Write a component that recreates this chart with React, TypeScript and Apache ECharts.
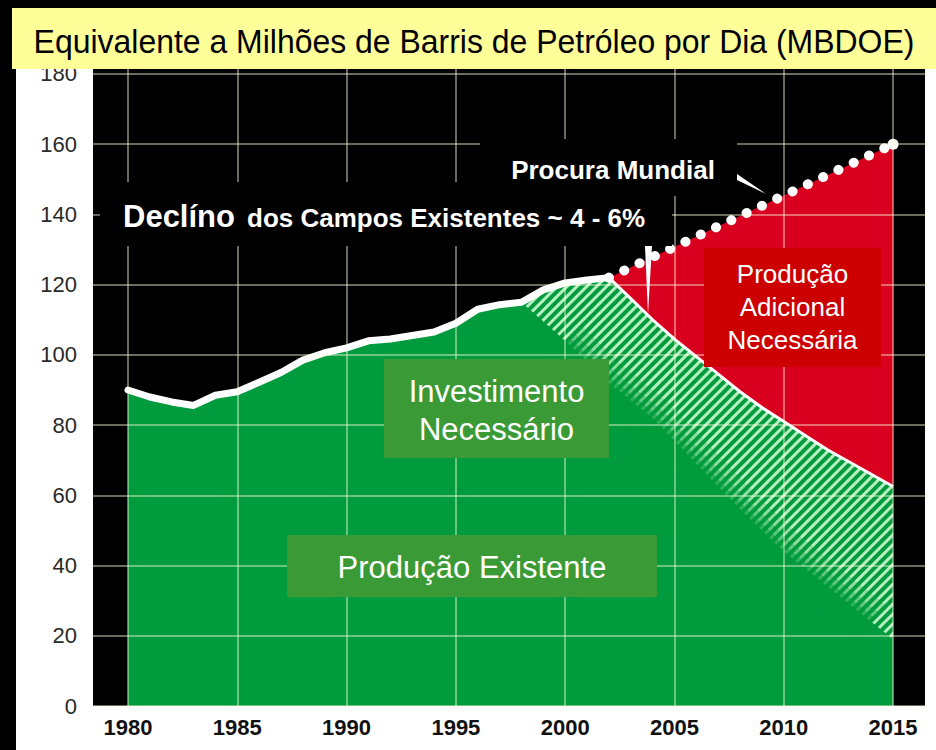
import React, { useEffect, useRef } from "react";
import * as echarts from "echarts";

// ---------- data ----------
const xTicks = [1980, 1985, 1990, 1995, 2000, 2005, 2010, 2015];
const yTicks = [0, 20, 40, 60, 80, 100, 120, 140, 160, 180];

const productionYears = [1980, 1981, 1982, 1983, 1984, 1985, 1986, 1987, 1988, 1989, 1990, 1991, 1992, 1993, 1994, 1995, 1996, 1997, 1998, 1999, 2000, 2001, 2002];
const productionValues = [90, 88, 86.6, 85.6, 88.5, 89.5, 92.2, 95, 98.5, 100.6, 102, 104, 104.5, 105.5, 106.5, 109, 113, 114.3, 115, 118.5, 120.5, 121.3, 122];

const declineYears = [2002, 2003, 2004, 2005, 2006, 2007, 2008, 2009, 2010, 2011, 2012, 2013, 2014, 2015];
const declineValues = [122, 116, 110, 104.5, 99.5, 94.5, 89.5, 85, 81, 77, 73, 69.5, 66, 62.5];

const baselineYears = [1998, 2000, 2002, 2004, 2006, 2008, 2010, 2012, 2014, 2015];
const baselineValues = [115, 104, 92, 82, 69, 56, 44, 34, 24, 19];

const demandYears = [2002, 2015];
const demandValues = [122, 160];

const TITLE = "Equivalente a Milhões de Barris de Petróleo por Dia (MBDOE)";

const FONT = "'Liberation Sans', Arial, Helvetica, sans-serif";
const GREEN = "#009B3C";
const RED = "#D8001E";

export default function App() {
  const ref = useRef<HTMLDivElement>(null);

  useEffect(() => {
    if (!ref.current) return;
    const chart = echarts.init(ref.current, null, { renderer: "svg" });

    const prod = productionYears.map((y, i) => [y, productionValues[i]]);
    const decl = declineYears.map((y, i) => [y, declineValues[i]]);
    const base = baselineYears.map((y, i) => [y, baselineValues[i]]);
    const demand = demandYears.map((y, i) => [y, demandValues[i]]);

    const fullProd = prod.concat(decl.slice(1));
    const baseFull = prod.filter((p) => p[0] <= baselineYears[0]).concat(base.slice(1));
    const fadeData = base.slice(1, -1);

    const xMin = 1978.4;
    const xMax = 2016.46;
    const yMax = 181.42;

    const gridColor = "rgba(255,255,225,0.42)";

    const fadeSeries = [
      { w: 44, a: 0.22 },
      { w: 24, a: 0.33 },
      { w: 10, a: 0.5 },
    ].map((f, i) => ({
      type: "line",
      data: fadeData,
      symbol: "none",
      lineStyle: { color: `rgba(0,155,60,${f.a})`, width: f.w, cap: "butt", join: "round" },
      z: 4 + i * 0.01,
      silent: true,
    }));

    const option: any = {
      animation: false,
      backgroundColor: "#ffffff",
      grid: {
        left: 93,
        right: 11,
        top: 69,
        bottom: 44,
        show: true,
        backgroundColor: "#000000",
        borderWidth: 0,
      },
      xAxis: [
        {
          type: "value",
          min: xMin,
          max: xMax,
          axisLine: { show: false },
          axisTick: { show: false, customValues: xTicks },
          axisLabel: {
            customValues: xTicks,
            fontSize: 22,
            fontWeight: "bold",
            color: "#111",
            fontFamily: FONT,
            margin: 10,
            formatter: (v: number) => String(v),
          },
          splitLine: { show: false },
        },
        {
          type: "value",
          min: xMin,
          max: xMax,
          position: "bottom",
          axisLine: { show: false },
          axisTick: { show: false, customValues: xTicks },
          axisLabel: { show: false, customValues: xTicks },
          splitLine: { show: true, lineStyle: { color: gridColor, width: 2 } },
          z: 8,
        },
      ],
      yAxis: [
        {
          type: "value",
          min: 0,
          max: yMax,
          axisLine: { show: false },
          axisTick: { show: false, customValues: yTicks },
          axisLabel: {
            customValues: yTicks,
            fontSize: 22,
            color: "#2a2a2a",
            fontFamily: FONT,
            margin: 16,
          },
          splitLine: { show: false },
        },
        {
          type: "value",
          min: 0,
          max: yMax,
          position: "left",
          axisLine: { show: false },
          axisTick: { show: false, customValues: yTicks },
          axisLabel: { show: false, customValues: yTicks },
          splitLine: { show: true, lineStyle: { color: gridColor, width: 2 } },
          z: 8,
        },
      ],
      series: [
        {
          type: "line",
          data: demand,
          symbol: "none",
          lineStyle: { width: 0 },
          areaStyle: { color: RED, opacity: 1 },
          z: 1,
          silent: true,
        },
        {
          type: "line",
          data: fullProd,
          symbol: "none",
          lineStyle: { width: 0 },
          areaStyle: { color: GREEN, opacity: 1 },
          itemStyle: {
            color: GREEN,
            decal: {
              symbol: "rect",
              symbolSize: 1,
              dashArrayX: [1, 0],
              dashArrayY: [2.2, 3.6],
              rotation: -Math.PI / 4,
              color: "rgba(215,255,215,0.85)",
            },
          },
          z: 2,
          silent: true,
        },
        {
          type: "line",
          data: baseFull,
          symbol: "none",
          lineStyle: { width: 0 },
          areaStyle: { color: GREEN, opacity: 1 },
          z: 3,
          silent: true,
        },
        ...fadeSeries,
        {
          type: "line",
          data: decl,
          symbol: "none",
          lineStyle: { color: "#ffffff", width: 3 },
          z: 6,
          silent: true,
        },
        {
          type: "line",
          data: prod,
          symbol: "none",
          lineStyle: { color: "#ffffff", width: 7, cap: "round", join: "round" },
          z: 6,
          silent: true,
        },
        {
          type: "line",
          data: demand.map((p, i) => ({
            value: p,
            symbol: "circle",
            symbolSize: i === demand.length - 1 ? 11 : 0,
          })),
          lineStyle: { color: "#ffffff", width: 10, type: [0.1, 16.8], cap: "round" },
          itemStyle: { color: "#ffffff", borderWidth: 0 },
          z: 7,
          silent: true,
        },
      ],
      graphic: [
        { type: "rect", z: 100, shape: { x: 0, y: 0, width: 16, height: 750 }, style: { fill: "#000" } },
        { type: "rect", z: 100, shape: { x: 0, y: 0, width: 936, height: 8 }, style: { fill: "#000" } },
        { type: "rect", z: 101, shape: { x: 12, y: 8, width: 924, height: 61 }, style: { fill: "#FFFF99" } },
        {
          type: "text",
          z: 102,
          x: 474,
          y: 41,
          scaleX: 0.94,
          style: {
            text: TITLE,
            fontSize: 34,
            fontFamily: FONT,
            fill: "#000",
            align: "center",
            verticalAlign: "middle",
          },
        },
        // Procura Mundial
        { type: "rect", z: 100, shape: { x: 480, y: 139, width: 257, height: 57 }, style: { fill: "#000" } },
        {
          type: "text",
          z: 102,
          x: 613,
          y: 170,
          style: {
            text: "Procura Mundial",
            fontSize: 26,
            fontWeight: "bold",
            fontFamily: FONT,
            fill: "#fff",
            align: "center",
            verticalAlign: "middle",
          },
        },
        { type: "polygon", z: 102, shape: { points: [[737, 174], [737, 180], [766, 194]] }, style: { fill: "#fff" } },
        // Declino
        { type: "rect", z: 100, shape: { x: 100, y: 182, width: 572, height: 64 }, style: { fill: "#000" } },
        {
          type: "text",
          z: 102,
          x: 123,
          y: 216,
          style: {
            text: "Declíno",
            fontSize: 31,
            fontWeight: "bold",
            fontFamily: FONT,
            fill: "#fff",
            align: "left",
            verticalAlign: "middle",
          },
        },
        {
          type: "text",
          z: 102,
          x: 247,
          y: 218,
          style: {
            text: "dos Campos Existentes ~ 4 - 6%",
            fontSize: 26,
            fontWeight: "bold",
            fontFamily: FONT,
            fill: "#fff",
            align: "left",
            verticalAlign: "middle",
          },
        },
        { type: "polygon", z: 102, shape: { points: [[645, 246], [652, 246], [648, 314]] }, style: { fill: "#fff" } },
        // Investimento Necessario
        { type: "rect", z: 100, shape: { x: 384, y: 359, width: 225, height: 99 }, style: { fill: "#3A9A35" } },
        {
          type: "text",
          z: 102,
          x: 496.5,
          y: 391,
          style: { text: "Investimento", fontSize: 31, fontFamily: FONT, fill: "#fff", align: "center", verticalAlign: "middle" },
        },
        {
          type: "text",
          z: 102,
          x: 496.5,
          y: 429,
          style: { text: "Necessário", fontSize: 31, fontFamily: FONT, fill: "#fff", align: "center", verticalAlign: "middle" },
        },
        // Producao Existente
        { type: "rect", z: 100, shape: { x: 287, y: 535, width: 370, height: 62 }, style: { fill: "#3A9A35" } },
        {
          type: "text",
          z: 102,
          x: 472,
          y: 567,
          style: { text: "Produção Existente", fontSize: 31, fontFamily: FONT, fill: "#fff", align: "center", verticalAlign: "middle" },
        },
        // Producao Adicional Necessaria
        { type: "rect", z: 100, shape: { x: 704, y: 248, width: 177, height: 119 }, style: { fill: "#CC0000" } },
        {
          type: "text",
          z: 102,
          x: 792.5,
          y: 274,
          style: { text: "Produção", fontSize: 26, fontFamily: FONT, fill: "#fff", align: "center", verticalAlign: "middle" },
        },
        {
          type: "text",
          z: 102,
          x: 792.5,
          y: 307,
          style: { text: "Adicional", fontSize: 26, fontFamily: FONT, fill: "#fff", align: "center", verticalAlign: "middle" },
        },
        {
          type: "text",
          z: 102,
          x: 792.5,
          y: 340,
          style: { text: "Necessária", fontSize: 26, fontFamily: FONT, fill: "#fff", align: "center", verticalAlign: "middle" },
        },
      ],
    };

    chart.setOption(option);
    return () => chart.dispose();
  }, []);

  return (
    <div
      ref={ref}
      style={{ position: "absolute", left: 0, top: 0, width: 936, height: 750, background: "#fff" }}
    />
  );
}
